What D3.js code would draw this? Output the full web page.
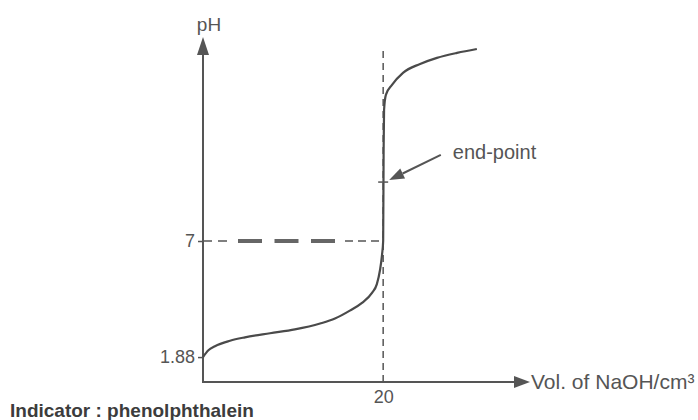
<!DOCTYPE html>
<html>
<head>
<meta charset="utf-8">
<script src="https://cdn.jsdelivr.net/npm/d3@7"></script>
<style>
  body { margin: 0; background: #fff; }
  svg { display: block; }
  text { font-family: "Liberation Sans", Arial, sans-serif; fill: #555; }
</style>
</head>
<body>
<script>
// titration curve (vol in cm3, pH)
var volumes = [0, 0.6, 1.33, 3.0, 4.66, 7.44, 10.2, 13.0, 14.65, 16.3, 17.65, 18.76, 19.3, 19.65, 19.87,
               20, 20.05, 20.1, 20.3, 20.98, 22.2, 24.1, 25.97, 28.2, 30.4];
var pHValues = [1.88, 2.18, 2.36, 2.6, 2.75, 2.93, 3.1, 3.36, 3.58, 3.93, 4.27, 4.71, 5.10, 5.72, 6.38,
                7.0, 11.02, 12.78, 13.45, 13.89, 14.42, 14.81, 15.08, 15.30, 15.47];

var yTicks = [1.88, 7];
var xTicks = [20];
var endPointPH = 9.6;
var labelFrom = {vol: 26.4, pH: 10.8};   // where the end-point arrow starts

var W = 698, H = 420;
var ink = '#555';

var svg = d3.select('body').append('svg')
    .attr('width', W)
    .attr('height', H);

var x = d3.scaleLinear().domain([0, 36.3]).range([203, 530]);
var y = d3.scaleLinear().domain([0.78, 16.0]).range([382, 37]);

var x0 = x(0), y0 = y(0.78);

// dashed guide lines
svg.append('line')
    .attr('x1', x(20)).attr('x2', x(20))
    .attr('y1', y0).attr('y2', y(15.6))
    .attr('stroke', ink).attr('stroke-width', 1.5)
    .attr('stroke-dasharray', '7,5');

// horizontal pH 7 guide: thin dashes at the ends, heavy ones in between
svg.append('line')
    .attr('x1', x0).attr('x2', x0 + 27)
    .attr('y1', y(7)).attr('y2', y(7))
    .attr('stroke', ink).attr('stroke-width', 1.5)
    .attr('stroke-dasharray', '9,6');
d3.range(3).forEach(function(i) {
    svg.append('line')
        .attr('x1', x0 + 35 + i * 36.5).attr('x2', x0 + 59 + i * 36.5)
        .attr('y1', y(7)).attr('y2', y(7))
        .attr('stroke', '#666').attr('stroke-width', 4);
});
svg.append('line')
    .attr('x1', x0 + 142).attr('x2', x(20))
    .attr('y1', y(7)).attr('y2', y(7))
    .attr('stroke', ink).attr('stroke-width', 1.5)
    .attr('stroke-dasharray', '8,5');

// axes lines with arrowheads
svg.append('line')
    .attr('x1', x0).attr('x2', x0)
    .attr('y1', y0).attr('y2', y(16.0) + 10)
    .attr('stroke', ink).attr('stroke-width', 2);
svg.append('path')
    .attr('d', 'M' + x0 + ',' + y(16.0) + 'l-6,18h12z')
    .attr('fill', ink);

svg.append('line')
    .attr('x1', x0 - 1).attr('x2', x(36.3) - 10)
    .attr('y1', y0).attr('y2', y0)
    .attr('stroke', ink).attr('stroke-width', 2);
svg.append('path')
    .attr('d', 'M' + x(36.3) + ',' + y0 + 'l-16,-6v12z')
    .attr('fill', ink);

// y ticks
var yAxis = d3.axisLeft(y).tickValues(yTicks).tickSize(5).tickPadding(3)
    .tickFormat(function(d) { return d; });
var gy = svg.append('g').attr('transform', 'translate(' + x0 + ',0)').call(yAxis);
gy.select('.domain').remove();
gy.selectAll('line').attr('stroke', ink).attr('stroke-width', 1.5);
gy.selectAll('text').attr('font-size', 18).attr('fill', ink)
    .attr('font-family', '"Liberation Sans", Arial, sans-serif');

// x ticks
var xAxis = d3.axisBottom(x).tickValues(xTicks).tickSize(0).tickPadding(8);
var gx = svg.append('g').attr('transform', 'translate(0,' + y0 + ')').call(xAxis);
gx.select('.domain').remove();
gx.selectAll('text').attr('font-size', 18).attr('fill', ink)
    .attr('font-family', '"Liberation Sans", Arial, sans-serif');

// the curve
var pts = volumes.map(function(v, i) { return [v, pHValues[i]]; });
var line = d3.line()
    .x(function(d) { return x(d[0]); })
    .y(function(d) { return y(d[1]); })
    .curve(d3.curveMonotoneX);

svg.append('path')
    .datum(pts)
    .attr('d', line)
    .attr('fill', 'none')
    .attr('stroke', '#4a4a4a')
    .attr('stroke-width', 2.2);

// end-point mark and arrow
svg.append('line')
    .attr('x1', x(20) - 5).attr('x2', x(20) + 5)
    .attr('y1', y(endPointPH)).attr('y2', y(endPointPH))
    .attr('stroke', ink).attr('stroke-width', 1.5);

var ax = x(labelFrom.vol), ay = y(labelFrom.pH);
var bx = x(20) + 6, by = y(endPointPH) - 2;
var ang = Math.atan2(by - ay, bx - ax);
var hl = 15, hw = 5.5;
var hx = bx - hl * Math.cos(ang), hy = by - hl * Math.sin(ang);
svg.append('line')
    .attr('x1', ax).attr('y1', ay).attr('x2', hx).attr('y2', hy)
    .attr('stroke', ink).attr('stroke-width', 2);
svg.append('path')
    .attr('d', 'M' + bx + ',' + by +
        'L' + (hx + hw * Math.sin(ang)) + ',' + (hy - hw * Math.cos(ang)) +
        'L' + (hx - hw * Math.sin(ang)) + ',' + (hy + hw * Math.cos(ang)) + 'Z')
    .attr('fill', ink);

svg.append('text')
    .attr('x', ax + 12).attr('y', ay + 4)
    .attr('font-size', 20)
    .text('end-point');

// axis titles
svg.append('text')
    .attr('x', x0 + 6).attr('y', 31)
    .attr('text-anchor', 'middle')
    .attr('font-size', 19)
    .text('pH');

svg.append('text')
    .attr('x', x(36.3) + 1).attr('y', y0 + 7)
    .attr('font-size', 21)
    .text('Vol. of NaOH/cm³');

svg.append('text')
    .attr('x', 10).attr('y', 417)
    .attr('font-size', 19)
    .attr('font-weight', 'bold')
    .style('fill', '#3c3c3c')
    .text('Indicator : phenolphthalein');
</script>
</body>
</html>
